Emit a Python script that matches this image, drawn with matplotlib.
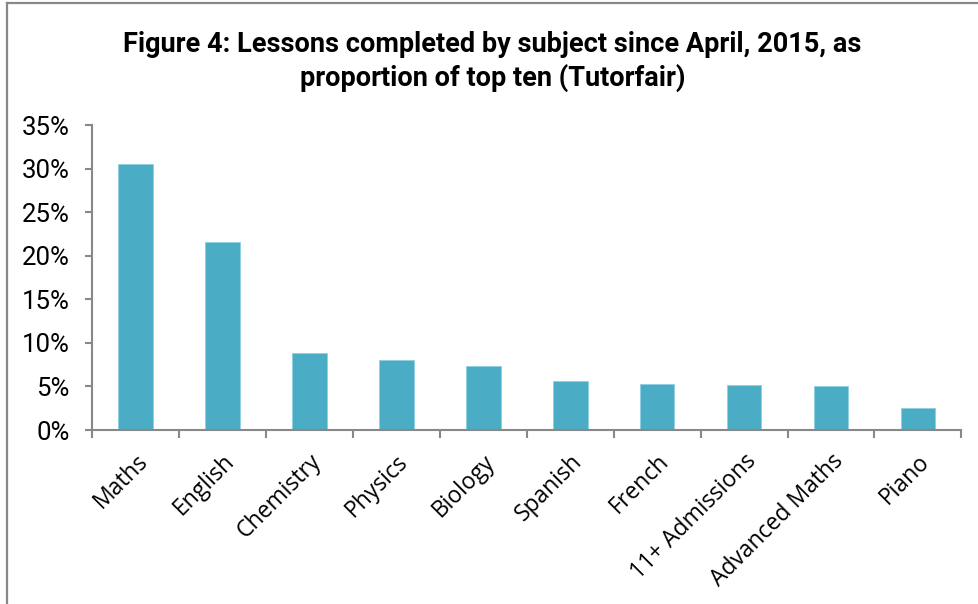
import matplotlib.pyplot as plt
from matplotlib.lines import Line2D
import numpy as np

subjects = ["Maths", "English", "Chemistry", "Physics", "Biology", "Spanish",
            "French", "11+ Admissions", "Advanced Maths", "Piano"]
shares = [30.5, 21.6, 8.8, 8.0, 7.3, 5.6, 5.3, 5.2, 5.1, 2.5]
yticks = [0, 5, 10, 15, 20, 25, 30, 35]

bar_color = "#4BACC6"
axis_color = "#888888"


def main():
    fig = plt.figure(figsize=(9.79, 6.04), dpi=100)
    ax = fig.add_axes([0.094, 0.288, 0.888, 0.505])

    x = np.arange(len(subjects))
    ax.bar(x, shares, width=0.4, color=bar_color, edgecolor="#8FCFE0", linewidth=0.6)

    ax.set_xlim(-0.5, len(subjects) - 0.5)
    ax.set_ylim(0, 35)
    ax.set_yticks(yticks)
    ax.set_yticklabels([f"{v}%" for v in yticks], fontsize=18.5, family="Roboto")
    ax.set_xticks(x)
    ax.set_xticklabels(subjects, rotation=45, ha="right", rotation_mode="anchor",
                       fontsize=16.5, family="Open Sans")
    ax.tick_params(axis="x", length=0, pad=14)
    ax.tick_params(axis="y", length=5, width=1.5, color=axis_color, pad=11)
    # category boundary ticks on the x axis
    ax.set_xticks(np.arange(-0.5, len(subjects)), minor=True)
    ax.tick_params(axis="x", which="minor", length=6, width=1.5, color=axis_color)

    for side in ("top", "right"):
        ax.spines[side].set_visible(False)
    for side in ("left", "bottom"):
        ax.spines[side].set_color(axis_color)
        ax.spines[side].set_linewidth(1.5)

    fig.text(0.503, 0.898, "Figure 4: Lessons completed by subject since April, 2015, as\n"
             "proportion of top ten (Tutorfair)", ha="center", va="center",
             fontsize=19.5, fontweight="bold", family="Roboto", linespacing=1.25)

    # frame lines at the top and left of the figure
    fig.add_artist(Line2D([7 / 979, 1], [1 - 3 / 604, 1 - 3 / 604], color=axis_color,
                          linewidth=1.6, transform=fig.transFigure))
    fig.add_artist(Line2D([7 / 979, 7 / 979], [0, 1 - 3 / 604], color=axis_color,
                          linewidth=1.6, transform=fig.transFigure))

    plt.savefig("out.png", dpi=100)
    plt.close()


if __name__ == "__main__":
    main()
